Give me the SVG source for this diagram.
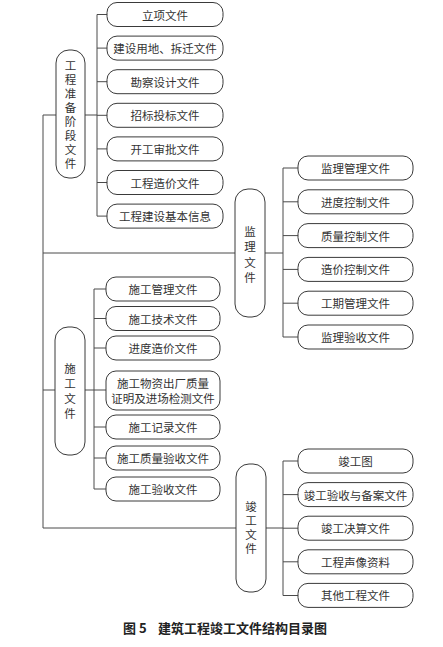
<svg xmlns="http://www.w3.org/2000/svg" width="443" height="647" viewBox="0 0 443 647">
<style>
.bg{fill:#fff}
.box{fill:#fff;stroke:#3a3a3a;stroke-width:1}
.ln{fill:none;stroke:#4a4a4a;stroke-width:1}
.t{font-family:"Noto Sans CJK SC","Noto Sans",sans-serif;font-size:11.5px;fill:#333;text-anchor:middle;dominant-baseline:central}
.v{font-family:"Noto Sans CJK SC","Noto Sans",sans-serif;font-size:11.5px;fill:#333;text-anchor:middle;writing-mode:vertical-rl;text-orientation:upright}
.cap{font-family:"Noto Sans CJK SC","Noto Sans",sans-serif;font-size:13px;font-weight:bold;fill:#222;dominant-baseline:central}
</style>
<rect class="bg" x="0" y="0" width="443" height="647"/>
<g id="connectors">
<path class="ln" d="M43,115V528H236M43,115H56M43,253H235M43,390H55"/>
<path class="ln" d="M85,115H97M97,14.5V216.1H107M97,14.5H107M97,48.1H107M97,81.7H107M97,115.3H107M97,148.9H107M97,182.5H107"/>
<path class="ln" d="M265,253H283M283,168V337H298M283,168H298M283,201.8H298M283,235.6H298M283,269.4H298M283,303.2H298"/>
<path class="ln" d="M85,390H94M94,289V489H106M94,289H106M94,318.5H106M94,348H106M94,390H106M94,427H106M94,458H106"/>
<path class="ln" d="M266,528H283M283,461V595.5H298M283,461H298M283,494.6H298M283,528.2H298M283,561.8H298"/>
</g>
<g id="n-prep">
<rect class="box" x="56" y="50" width="29" height="128" rx="13"/>
<text class="v" x="70.5" y="116.2" letter-spacing="2.5">工程准备阶段文件</text>
</g>
<g id="n-p1"><rect class="box" x="107" y="2.5" width="116" height="24" rx="10"/><text class="t" x="165" y="14.5">立项文件</text></g>
<g id="n-p2"><rect class="box" x="107" y="36.1" width="116" height="24" rx="10"/><text class="t" x="165" y="48.1">建设用地、拆迁文件</text></g>
<g id="n-p3"><rect class="box" x="107" y="69.7" width="116" height="24" rx="10"/><text class="t" x="165" y="81.7">勘察设计文件</text></g>
<g id="n-p4"><rect class="box" x="107" y="103.3" width="116" height="24" rx="10"/><text class="t" x="165" y="115.3">招标投标文件</text></g>
<g id="n-p5"><rect class="box" x="107" y="136.9" width="116" height="24" rx="10"/><text class="t" x="165" y="148.9">开工审批文件</text></g>
<g id="n-p6"><rect class="box" x="107" y="170.5" width="116" height="24" rx="10"/><text class="t" x="165" y="182.5">工程造价文件</text></g>
<g id="n-p7"><rect class="box" x="107" y="204.1" width="116" height="24" rx="10"/><text class="t" x="165" y="216.1">工程建设基本信息</text></g>
<g id="n-sup">
<rect class="box" x="235" y="189" width="30" height="128" rx="13"/>
<text class="v" x="250" y="256.5" letter-spacing="4">监理文件</text>
</g>
<g id="n-s1"><rect class="box" x="298" y="156" width="115" height="24" rx="10"/><text class="t" x="355.5" y="168">监理管理文件</text></g>
<g id="n-s2"><rect class="box" x="298" y="189.8" width="115" height="24" rx="10"/><text class="t" x="355.5" y="201.8">进度控制文件</text></g>
<g id="n-s3"><rect class="box" x="298" y="223.6" width="115" height="24" rx="10"/><text class="t" x="355.5" y="235.6">质量控制文件</text></g>
<g id="n-s4"><rect class="box" x="298" y="257.4" width="115" height="24" rx="10"/><text class="t" x="355.5" y="269.4">造价控制文件</text></g>
<g id="n-s5"><rect class="box" x="298" y="291.2" width="115" height="24" rx="10"/><text class="t" x="355.5" y="303.2">工期管理文件</text></g>
<g id="n-s6"><rect class="box" x="298" y="325" width="115" height="24" rx="10"/><text class="t" x="355.5" y="337">监理验收文件</text></g>
<g id="n-con">
<rect class="box" x="55" y="327" width="30" height="128" rx="13"/>
<text class="v" x="70" y="393.3" letter-spacing="3.5">施工文件</text>
</g>
<g id="n-c1"><rect class="box" x="106" y="277" width="114" height="24" rx="10"/><text class="t" x="163" y="289">施工管理文件</text></g>
<g id="n-c2"><rect class="box" x="106" y="306.5" width="114" height="24" rx="10"/><text class="t" x="163" y="318.5">施工技术文件</text></g>
<g id="n-c3"><rect class="box" x="106" y="336" width="114" height="24" rx="10"/><text class="t" x="163" y="348">进度造价文件</text></g>
<g id="n-c4"><rect class="box" x="106" y="371" width="114" height="39" rx="10"/><text class="t"><tspan x="163" y="382.5">施工物资出厂质量</tspan><tspan x="163" y="398">证明及进场检测文件</tspan></text></g>
<g id="n-c5"><rect class="box" x="106" y="415" width="114" height="24" rx="10"/><text class="t" x="163" y="427">施工记录文件</text></g>
<g id="n-c6"><rect class="box" x="106" y="446" width="114" height="24" rx="10"/><text class="t" x="163" y="458">施工质量验收文件</text></g>
<g id="n-c7"><rect class="box" x="106" y="477" width="114" height="24" rx="10"/><text class="t" x="163" y="489">施工验收文件</text></g>
<g id="n-fin">
<rect class="box" x="236" y="464" width="30" height="128" rx="13"/>
<text class="v" x="251" y="529.2" letter-spacing="2.5">竣工文件</text>
</g>
<g id="n-f1"><rect class="box" x="298" y="449" width="115" height="24" rx="10"/><text class="t" x="355.5" y="461">竣工图</text></g>
<g id="n-f2"><rect class="box" x="298" y="482.6" width="115" height="24" rx="10"/><text class="t" x="355.5" y="494.6">竣工验收与备案文件</text></g>
<g id="n-f3"><rect class="box" x="298" y="516.2" width="115" height="24" rx="10"/><text class="t" x="355.5" y="528.2">竣工决算文件</text></g>
<g id="n-f4"><rect class="box" x="298" y="549.8" width="115" height="24" rx="10"/><text class="t" x="355.5" y="561.8">工程声像资料</text></g>
<g id="n-f5"><rect class="box" x="298" y="583.4" width="115" height="24" rx="10"/><text class="t" x="355.5" y="595.4">其他工程文件</text></g>
<g id="caption">
<text class="cap" x="123" y="627">图 5</text>
<text class="cap" x="158" y="627">建筑工程竣工文件结构目录图</text>
</g>
</svg>
